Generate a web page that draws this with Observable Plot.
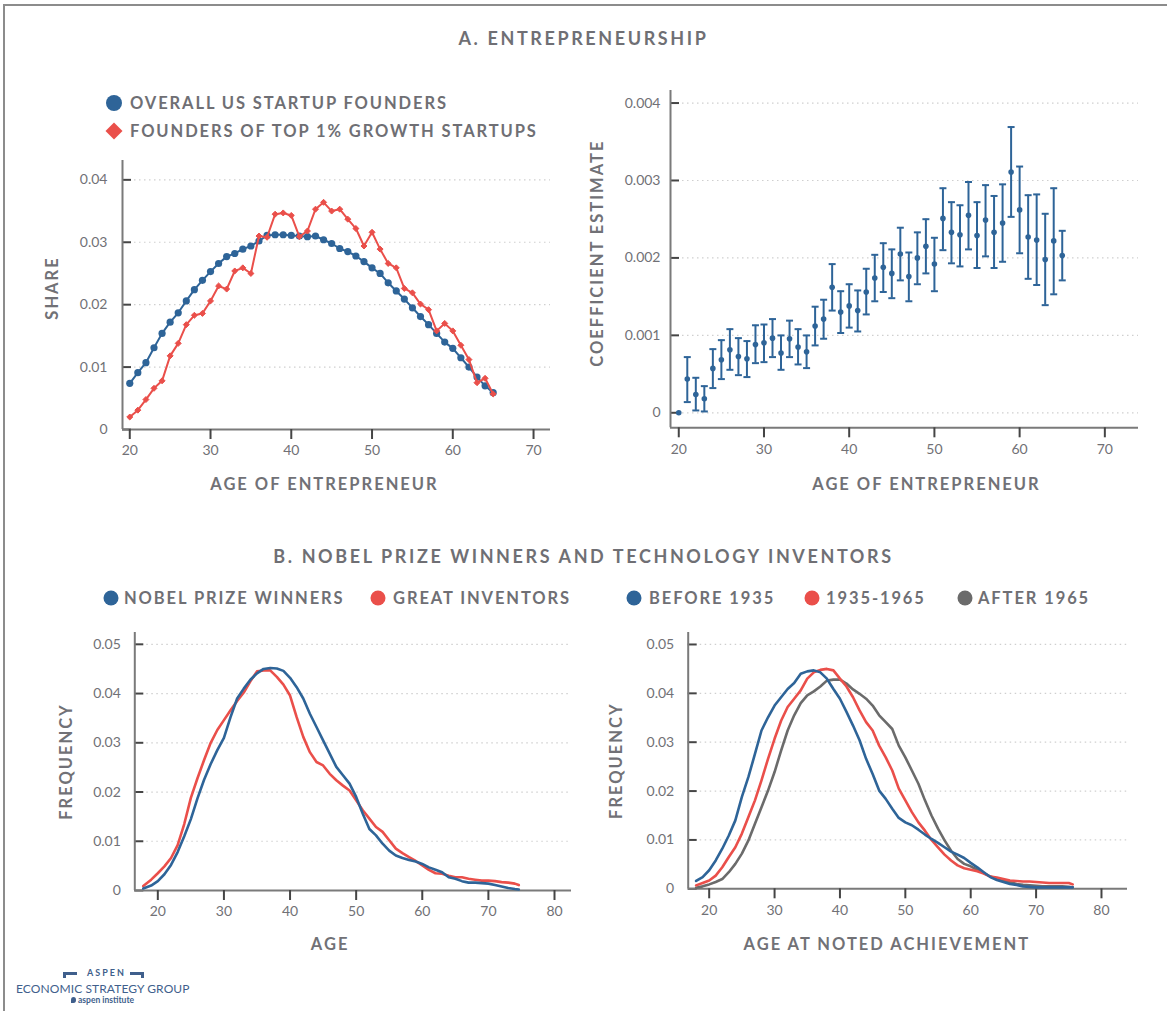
<!DOCTYPE html>
<html>
<head>
<meta charset="utf-8">
<script src="https://cdn.jsdelivr.net/npm/d3@7"></script>
<script src="https://cdn.jsdelivr.net/npm/@observablehq/plot@0.6"></script>
<style>
  html, body { margin: 0; padding: 0; background: #fff; }
  body { width: 1167px; height: 1011px; position: relative; overflow: hidden; font-family: Lato, "Open Sans", sans-serif; color: #6f6f74; }
  .border { position: absolute; left: 3px; top: 4px; width: 1170px; height: 1020px; border-top: 2px solid #8c8c8c; border-left: 2px solid #8c8c8c; }
  .title { position: absolute; left: 0; width: 1167px; text-align: center; font-weight: 700; font-size: 18px; letter-spacing: 2.6px; transform: translateY(-50%); white-space: nowrap; }
  .leg { position: absolute; font-weight: 700; font-size: 16.5px; letter-spacing: 1.9px; white-space: nowrap; transform: translateY(-50%); line-height: 18px; }
  .sw { position: absolute; border-radius: 50%; transform: translate(-50%, -50%); }
  .dia { position: absolute; width: 12px; height: 12px; transform: translate(-50%, -50%) rotate(45deg); }
  .chart { position: absolute; }
  .chart svg { overflow: visible; }
  .chart svg g[aria-label="text"] text { letter-spacing: 2px; }
  .logo { position: absolute; color: #3f5f8c; white-space: nowrap; }
</style>
</head>
<body>
<div class="border"></div>

<div class="title" style="top:38px">A. ENTREPRENEURSHIP</div>
<div class="title" style="top:556px">B. NOBEL PRIZE WINNERS AND TECHNOLOGY INVENTORS</div>

<!-- legend A -->
<div class="sw" style="left:114px;top:103px;width:16px;height:16px;background:#2e6498"></div>
<div class="leg" style="left:130px;top:103px">OVERALL US STARTUP FOUNDERS</div>
<div class="dia" style="left:114px;top:131px;background:#ea4f4a"></div>
<div class="leg" style="left:130px;top:131px">FOUNDERS OF TOP 1% GROWTH STARTUPS</div>

<!-- legend B left -->
<div class="sw" style="left:111px;top:598px;width:15px;height:15px;background:#2e6498"></div>
<div class="leg" style="left:124px;top:598px">NOBEL PRIZE WINNERS</div>
<div class="sw" style="left:378px;top:598px;width:15px;height:15px;background:#ea4f4a"></div>
<div class="leg" style="left:393px;top:598px">GREAT INVENTORS</div>

<!-- legend B right -->
<div class="sw" style="left:634px;top:598px;width:15px;height:15px;background:#2e6498"></div>
<div class="leg" style="left:649px;top:598px">BEFORE 1935</div>
<div class="sw" style="left:812px;top:598px;width:15px;height:15px;background:#ea4f4a"></div>
<div class="leg" style="left:826px;top:598px">1935-1965</div>
<div class="sw" style="left:965px;top:598px;width:15px;height:15px;background:#6b6b6b"></div>
<div class="leg" style="left:978px;top:598px">AFTER 1965</div>

<div id="a1" class="chart" style="left:0px;top:150px"></div>
<div id="a2" class="chart" style="left:580px;top:80px"></div>
<div id="b1" class="chart" style="left:60px;top:620px"></div>
<div id="b2" class="chart" style="left:610px;top:620px"></div>

<!-- logo -->
<div class="logo" style="left:63px;top:972px;width:14px;height:3px;background:#3f5f8c"></div>
<div class="logo" style="left:63px;top:972px;width:3px;height:6px;background:#3f5f8c"></div>
<div class="logo" style="left:87px;top:968px;font-size:9px;font-weight:700;letter-spacing:2px;line-height:10px">ASPEN</div>
<div class="logo" style="left:130px;top:972px;width:14px;height:3px;background:#3f5f8c"></div>
<div class="logo" style="left:141px;top:972px;width:3px;height:6px;background:#3f5f8c"></div>
<div class="logo" style="left:16px;top:982px;font-size:12px;letter-spacing:0.1px;line-height:13px">ECONOMIC STRATEGY GROUP</div>
<div class="logo" style="left:71px;top:997px;width:5px;height:6px;border-radius:50% 50% 50% 0;background:#3f5f8c"></div>
<div class="logo" style="left:78px;top:995px;font-size:8.5px;font-weight:700;line-height:10px">aspen institute</div>

<script>
// ---------- DATA ----------
const BLUE = "#2e6498", RED = "#ea4f4a", GRAY = "#6b6b6b";

// Panel A (left): share by age
const agesA = [20,21,22,23,24,25,26,27,28,29,30,31,32,33,34,35,36,37,38,39,40,41,42,43,44,45,46,47,48,49,50,51,52,53,54,55,56,57,58,59,60,61,62,63,64,65];
const overallShare = [0.0074,0.0091,0.0107,0.0131,0.0154,0.0172,0.0187,0.0206,0.0224,0.0239,0.0253,0.0266,0.0277,0.0282,0.0289,0.0294,0.0302,0.0311,0.0312,0.0312,0.0311,0.0310,0.0309,0.0310,0.0304,0.0298,0.0290,0.0285,0.0278,0.0269,0.0259,0.0250,0.0235,0.0222,0.0209,0.0195,0.0181,0.0168,0.0154,0.0140,0.0130,0.0115,0.0100,0.0084,0.0070,0.0059];
const top1Share = [0.0020,0.0031,0.0048,0.0066,0.0078,0.0118,0.0138,0.0168,0.0183,0.0186,0.0206,0.0230,0.0225,0.0254,0.0259,0.0250,0.0310,0.0308,0.0345,0.0347,0.0343,0.0309,0.0318,0.0353,0.0364,0.0350,0.0353,0.0337,0.0322,0.0294,0.0316,0.0289,0.0266,0.0259,0.0226,0.0219,0.0201,0.0192,0.0158,0.0170,0.0158,0.0135,0.0112,0.0075,0.0082,0.0057];

// Panel A (right): coefficient estimates with confidence intervals
const coefEst = [0,0.000435,0.000237,0.000181,0.000573,0.000684,0.000814,0.000727,0.000697,0.000882,0.000904,0.000964,0.000771,0.000956,0.000848,0.000788,0.00112,0.00121,0.00162,0.0013,0.00138,0.00132,0.00156,0.00174,0.00188,0.0018,0.00205,0.00176,0.002,0.00215,0.00192,0.00251,0.00233,0.0023,0.00255,0.00229,0.00249,0.00233,0.00245,0.00311,0.00262,0.00227,0.00223,0.00198,0.00222,0.00203];
const coefHi = [null,0.000719,0.000452,0.000344,0.000822,0.000938,0.00108,0.000964,0.000926,0.00113,0.00114,0.00121,0.000999,0.00119,0.00108,0.000999,0.00137,0.00146,0.00192,0.00157,0.00166,0.00158,0.00186,0.00204,0.00219,0.00211,0.00239,0.00207,0.00233,0.0025,0.00226,0.0029,0.00272,0.00268,0.00298,0.00272,0.00294,0.0028,0.00295,0.00369,0.00318,0.00281,0.00282,0.00257,0.0029,0.00235];
const coefLo = [null,0.000138,0.00003,0.000017,0.000319,0.000435,0.000555,0.000486,0.000461,0.000641,0.000654,0.000719,0.000555,0.000719,0.000624,0.000577,0.00087,0.000956,0.00132,0.00103,0.0011,0.00105,0.00127,0.00144,0.00156,0.00148,0.00171,0.00144,0.00166,0.0018,0.00157,0.0021,0.00193,0.00189,0.00211,0.00187,0.00202,0.00187,0.00195,0.00253,0.00206,0.00173,0.00165,0.00139,0.00153,0.00171];

// Panel B (left): frequency by age
const agesB1 = [17.8,19,20,21,22,23,24,25,26,27,28,29,30,31,32,33,34,35,36,37,38,39,40,41,42,43,44,45,46,47,48,49,50,51,52,53,54,55,56,57,58,59,60,61,62,63,64,65,66,67,68,69,70,71,72,73,74,74.6];
const nobelFreq = [0.0004,0.0010,0.0019,0.0033,0.0052,0.0078,0.0110,0.0145,0.0187,0.0225,0.0257,0.0285,0.0310,0.0352,0.0390,0.0410,0.0428,0.0441,0.0450,0.0452,0.0451,0.0446,0.0432,0.0413,0.0390,0.0359,0.0332,0.0305,0.0278,0.0251,0.0234,0.0217,0.0190,0.0156,0.0125,0.0112,0.0095,0.0081,0.0071,0.0066,0.0062,0.0059,0.0054,0.0047,0.0042,0.0037,0.0027,0.0024,0.0019,0.0016,0.0016,0.0015,0.0014,0.0011,0.0008,0.0005,0.0003,0.0002];
const inventorFreq = [0.0009,0.0022,0.0035,0.0049,0.0066,0.0092,0.0135,0.0188,0.0228,0.0265,0.0300,0.0326,0.0346,0.0366,0.0385,0.0402,0.0425,0.0445,0.0447,0.0447,0.0434,0.0418,0.0396,0.0352,0.0312,0.0281,0.0261,0.0254,0.0237,0.0224,0.0213,0.0203,0.0183,0.0163,0.0146,0.0129,0.0119,0.0102,0.0085,0.0076,0.0068,0.0060,0.0051,0.0042,0.0035,0.0034,0.0030,0.0027,0.0027,0.0024,0.0022,0.0020,0.0020,0.0019,0.0017,0.0016,0.0014,0.0011];

// Panel B (right): frequency by age at noted achievement
const agesB2 = [18,19,20,21,22,23,24,25,26,27,28,29,30,31,32,33,34,35,36,37,38,39,40,41,42,43,44,45,46,47,48,49,50,51,52,53,54,55,56,57,58,59,60,61,62,63,64,65,66,67,68,69,70,71,72,73,74,75,75.6];
const before1935 = [0.0016,0.0024,0.0038,0.0058,0.0082,0.0109,0.0140,0.0188,0.0229,0.0276,0.0324,0.0351,0.0375,0.0392,0.0409,0.0421,0.0440,0.0445,0.0447,0.0443,0.0430,0.0409,0.0389,0.0362,0.0334,0.0304,0.0266,0.0235,0.0201,0.0184,0.0164,0.0145,0.0136,0.0130,0.0121,0.0111,0.0102,0.0094,0.0085,0.0076,0.0070,0.0063,0.0053,0.0044,0.0034,0.0024,0.0018,0.0014,0.0010,0.0008,0.0005,0.0004,0.0003,0.0003,0.0003,0.0003,0.0003,0.0003,0.0003];
const from1935to1965 = [0.0007,0.0012,0.0017,0.0027,0.0044,0.0065,0.0085,0.0113,0.0147,0.0181,0.0222,0.0266,0.0307,0.0344,0.0372,0.0389,0.0406,0.0430,0.0443,0.0448,0.0450,0.0447,0.0430,0.0414,0.0392,0.0365,0.0341,0.0324,0.0293,0.0269,0.0242,0.0205,0.0181,0.0157,0.0136,0.0119,0.0100,0.0085,0.0070,0.0058,0.0048,0.0042,0.0039,0.0036,0.0031,0.0025,0.0023,0.0020,0.0017,0.0016,0.0015,0.0015,0.0014,0.0013,0.0012,0.0012,0.0012,0.0012,0.0009];
const after1965 = [0.0002,0.0005,0.0009,0.0014,0.0020,0.0034,0.0051,0.0072,0.0099,0.0133,0.0167,0.0201,0.0239,0.0283,0.0324,0.0355,0.0380,0.0396,0.0404,0.0414,0.0426,0.0428,0.0428,0.0420,0.0408,0.0399,0.0389,0.0375,0.0355,0.0341,0.0327,0.0293,0.0269,0.0242,0.0215,0.0181,0.0150,0.0123,0.0099,0.0078,0.0061,0.0051,0.0046,0.0039,0.0032,0.0025,0.0020,0.0017,0.0014,0.0010,0.0008,0.0007,0.0006,0.0005,0.0005,0.0005,0.0005,0.0004,0.0003];

// tick labels
const xTicksA = [20,30,40,50,60,70];
const xTicksB = [20,30,40,50,60,70,80];
const yTicksA1 = [0,0.01,0.02,0.03,0.04];
const yTicksA2 = [0,0.001,0.002,0.003,0.004];
const yTicksB = [0,0.01,0.02,0.03,0.04,0.05];

// ---------- HELPERS ----------
const TICK = "#454545", AXIS = "#7a7a7a", LABEL = "#717176", GRID = "#cfcfcf";
const fmt = d3.format("~g");
const titleStyle = {fill: LABEL, fontSize: 16.5, fontWeight: 700, textAnchor: "middle", text: d => d};

function frameMarks(xDom, yDom, yTicks, fw, gridTicks) {
  return [
    Plot.ruleY(gridTicks, {stroke: GRID, strokeWidth: 1.2, strokeDasharray: "1.5,3.5", insetLeft: 12}),
    Plot.ruleY(yTicks, {stroke: TICK, strokeWidth: 2, insetRight: fw - 9}),
    Plot.ruleX([xDom[0]], {stroke: AXIS, strokeWidth: 2}),
    Plot.ruleY([yDom[0]], {stroke: AXIS, strokeWidth: 2})
  ];
}
function axes(xTicks, yTicks, yPad) {
  return [
    Plot.axisX({ticks: xTicks, tickSize: 10, tickPadding: 6, stroke: TICK, strokeWidth: 2, fill: LABEL, fontSize: 14, label: null}),
    Plot.axisY({ticks: yTicks, tickSize: 0, tickPadding: yPad, fill: LABEL, fontSize: 14, label: null, tickFormat: fmt})
  ];
}
const capSymbol = {draw(ctx) { ctx.moveTo(-3.5, 0); ctx.lineTo(3.5, 0); }};

// ---------- A1 ----------
{
  const W = 570, H = 350, mL = 122, mR = 20, mT = 10, mB = 71;
  const xDom = [19.1, 72.1], yDom = [0, 0.0431];
  const data = agesA.map((a, i) => ({age: a, overall: overallShare[i], top1: top1Share[i]}));
  const p = Plot.plot({
    width: W, height: H, marginLeft: mL, marginRight: mR, marginTop: mT, marginBottom: mB,
    style: {fontFamily: "Lato, sans-serif", background: "transparent"},
    x: {domain: xDom}, y: {domain: yDom},
    marks: [
      ...frameMarks(xDom, yDom, yTicksA1, W - mL - mR, yTicksA1.filter(d => d > 0)),
      ...axes(xTicksA, yTicksA1, 15),
      Plot.line(data, {x: "age", y: "overall", stroke: BLUE, strokeWidth: 2}),
      Plot.dot(data, {x: "age", y: "overall", fill: BLUE, r: 3.6}),
      Plot.line(data, {x: "age", y: "top1", stroke: RED, strokeWidth: 2}),
      Plot.dot(data, {x: "age", y: "top1", symbol: "diamond2", fill: RED, stroke: RED, strokeWidth: 1, r: 2.7}),
      Plot.text(["AGE OF ENTREPRENEUR"], {frameAnchor: "bottom", dx: -12, dy: 60, ...titleStyle}),
      Plot.text(["SHARE"], {frameAnchor: "left", rotate: -90, dx: -70, dy: -7, ...titleStyle})
    ]
  });
  document.getElementById("a1").append(p);
}

// ---------- A2 ----------
{
  const W = 587, H = 420, mL = 90, mR = 29, mT = 10, mB = 72.7;
  const xDom = [19.03, 73.95], yDom = [-0.000194, 0.004162];
  const data = agesA.map((a, i) => ({age: a, coef: coefEst[i], lo: coefLo[i], hi: coefHi[i]}));
  const bars = data.filter(d => d.hi != null);
  const p = Plot.plot({
    width: W, height: H, marginLeft: mL, marginRight: mR, marginTop: mT, marginBottom: mB,
    style: {fontFamily: "Lato, sans-serif", background: "transparent"},
    x: {domain: xDom}, y: {domain: yDom},
    marks: [
      ...frameMarks(xDom, yDom, yTicksA2, W - mL - mR, yTicksA2),
      ...axes(xTicksA, yTicksA2, 10),
      Plot.ruleX(bars, {x: "age", y1: "lo", y2: "hi", stroke: BLUE, strokeWidth: 2}),
      Plot.dot(bars, {x: "age", y: "hi", symbol: capSymbol, fill: "none", stroke: BLUE, strokeWidth: 2}),
      Plot.dot(bars, {x: "age", y: "lo", symbol: capSymbol, fill: "none", stroke: BLUE, strokeWidth: 2}),
      Plot.dot(data, {x: "age", y: "coef", fill: BLUE, r: 2.8}),
      Plot.text(["AGE OF ENTREPRENEUR"], {frameAnchor: "bottom", dx: 22, dy: 62, ...titleStyle}),
      Plot.text(["COEFFICIENT ESTIMATE"], {frameAnchor: "left", rotate: -90, dx: -73, dy: -6, ...titleStyle})
    ]
  });
  document.getElementById("a2").append(p);
}

// ---------- B1 ----------
{
  const W = 530, H = 350, mL = 74.3, mR = 19, mT = 12, mB = 80;
  const xDom = [16.52, 82.57], yDom = [0, 0.0524];
  const data = agesB1.map((a, i) => ({age: a, nobel: nobelFreq[i], inv: inventorFreq[i]}));
  const p = Plot.plot({
    width: W, height: H, marginLeft: mL, marginRight: mR, marginTop: mT, marginBottom: mB,
    style: {fontFamily: "Lato, sans-serif", background: "transparent"},
    x: {domain: xDom}, y: {domain: yDom},
    marks: [
      ...frameMarks(xDom, yDom, yTicksB, W - mL - mR, yTicksB.filter(d => d > 0)),
      ...axes(xTicksB, yTicksB, 14),
      Plot.line(data, {x: "age", y: "inv", stroke: RED, strokeWidth: 2.6}),
      Plot.line(data, {x: "age", y: "nobel", stroke: BLUE, strokeWidth: 2.6}),
      Plot.text(["AGE"], {frameAnchor: "bottom", dx: -23, dy: 59, ...titleStyle}),
      Plot.text(["FREQUENCY"], {frameAnchor: "left", rotate: -90, dx: -68, dy: 0, ...titleStyle})
    ]
  });
  document.getElementById("b1").append(p);
}

// ---------- B2 ----------
{
  const W = 557, H = 350, mL = 77.7, mR = 40, mT = 12, mB = 81.7;
  const xDom = [16.79, 83.98], yDom = [0, 0.05245];
  const data = agesB2.map((a, i) => ({age: a, b: before1935[i], m: from1935to1965[i], a: after1965[i]}));
  const p = Plot.plot({
    width: W, height: H, marginLeft: mL, marginRight: mR, marginTop: mT, marginBottom: mB,
    style: {fontFamily: "Lato, sans-serif", background: "transparent"},
    x: {domain: xDom}, y: {domain: yDom},
    marks: [
      ...frameMarks(xDom, yDom, yTicksB, W - mL - mR, yTicksB.filter(d => d > 0)),
      ...axes(xTicksB, yTicksB, 14),
      Plot.line(data, {x: "age", y: "a", stroke: GRAY, strokeWidth: 2.6}),
      Plot.line(data, {x: "age", y: "m", stroke: RED, strokeWidth: 2.6}),
      Plot.line(data, {x: "age", y: "b", stroke: BLUE, strokeWidth: 2.6}),
      Plot.text(["AGE AT NOTED ACHIEVEMENT"], {frameAnchor: "bottom", dx: -21, dy: 61, ...titleStyle}),
      Plot.text(["FREQUENCY"], {frameAnchor: "left", rotate: -90, dx: -71, dy: 0, ...titleStyle})
    ]
  });
  document.getElementById("b2").append(p);
}
</script>
</body>
</html>
